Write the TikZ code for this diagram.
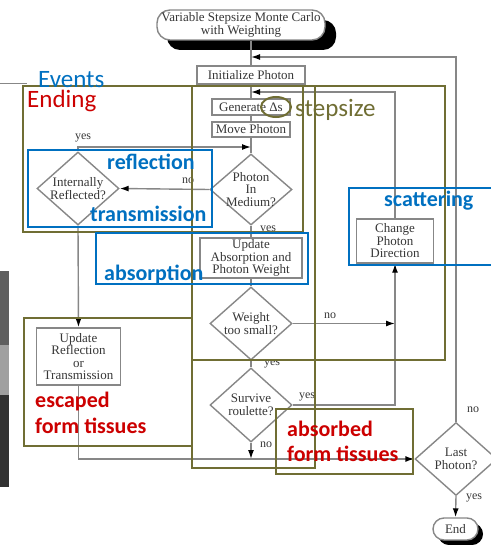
\documentclass[tikz,border=0pt]{standalone}
\usepackage{fontspec}
\setmainfont{Liberation Serif}
\newfontfamily\annfont{Carlito}
\usetikzlibrary{arrows.meta,shapes.geometric}
\definecolor{fcline}{RGB}{135,135,135}
\definecolor{fctext}{RGB}{55,55,55}
\definecolor{olivebox}{RGB}{112,110,52}
\definecolor{annblue}{RGB}{0,112,192}
\definecolor{annred}{RGB}{204,0,0}
\definecolor{barA}{RGB}{95,95,95}
\definecolor{barB}{RGB}{160,160,160}
\definecolor{barC}{RGB}{50,50,50}
\begin{document}
\begin{tikzpicture}[x=1pt,y=-1pt,
  fcfont/.style={font=\fontsize{13}{12.5}\selectfont},
  fcbox/.style={draw=fcline, line width=1.4pt, fill=white, text=fctext, fcfont, align=center, inner sep=0pt},
  dia/.style={diamond, draw=fcline, line width=1.4pt, fill=white, inner sep=0pt, minimum width=82pt, minimum height=73pt},
  dtext/.style={text=fctext, fcfont, align=center, inner sep=0pt},
  lab/.style={text=fctext, font=\fontsize{12}{12}\selectfont, inner sep=0pt},
  fcl/.style={draw=fcline, line width=1.4pt},
  arr/.style={-{Latex[length=9pt,width=6pt,color=black]}},
  olv/.style={draw=olivebox, line width=2pt},
  blu/.style={draw=annblue, line width=2pt},
  anntext/.style={inner sep=0pt, anchor=base west, font=\annfont\fontsize{25}{25}\selectfont},
  annbold/.style={inner sep=0pt, anchor=base west, font=\annfont\bfseries\fontsize{22}{27}\selectfont, align=left}
]
\useasboundingbox (0,0) rectangle (490,545);
% left slide artefacts
\fill[barA] (0,271) rectangle (9,345);
\fill[barB] (0,345) rectangle (9,395);
\fill[barC] (0,395) rectangle (9,487);
\draw[fcline, line width=1pt] (0,84) -- (27,84);

% ---------- flowchart ----------
\fill[black, rounded corners=13pt] (167,20) rectangle (336,50);
\node[fcbox, rounded corners=13pt, minimum width=168pt, minimum height=30pt] (start) at (241,25) {Variable Stepsize Monte Carlo\\with Weighting};
\node[fcbox, minimum width=108pt, minimum height=18pt] (init) at (251,75) {Initialize Photon};
\node[fcbox, minimum width=78pt, minimum height=16pt] (gen) at (251,107) {Generate Δs};
\node[fcbox, minimum width=78pt, minimum height=15pt] (move) at (251,129.5) {Move Photon};
\node[dia, minimum width=82pt, minimum height=71pt] (pim) at (251,189.5) {};
\node[dtext] (pimt) at (pim.center) {Photon\\In\\Medium?};
\node[fcbox, minimum width=102pt, minimum height=40pt] (upabs) at (251,258) {Update\\Absorption and\\Photon Weight};
\node[dia] (wts) at (251,323.5) {};
\node[dtext] (wtst) at (wts.center) {Weight\\too small?};
\node[dia, minimum height=74pt] (surv) at (251,405) {};
\node[dtext] (survt) at (surv.center) {Survive\\roulette?};
\node[dia] (ir) at (78,188.5) {};
\node[dtext] (irt) at (ir.center) {Internally\\Reflected?};
\node[fcbox, minimum width=84pt, minimum height=57pt] (uprefl) at (78.5,356.5) {Update\\Reflection\\or\\Transmission};
\node[fcbox, minimum width=77pt, minimum height=44pt] (cpd) at (395,241) {Change\\Photon\\Direction};
\node[dia] (last) at (456,459) {};
\node[dtext] (lastt) at (last.center) {Last\\Photon?};
\fill[black, rounded corners=11pt] (438,523) rectangle (483,545);
\node[fcbox, rounded corners=11pt, minimum width=45pt, minimum height=22pt] (end) at (455.5,529) {End};

\coordinate (ja) at (251,57);
\coordinate (jb) at (251,92);
\coordinate (jc) at (251,147);

\draw[fcl] (init.north |- start.south) -- (init.north);
\draw[fcl] (init) -- (gen);
\draw[fcl] (gen) -- (move);
\draw[fcl] (move) -- (pim);
\draw[fcl] (pim) -- (upabs);
\draw[fcl] (upabs) -- (wts);
\draw[fcl] (wts) -- (surv);
\draw[fcl,arr] (pim.west) -- (ir.east);
\draw[fcl,arr] (ir.north) |- (jc);
\draw[fcl,arr] (ir.south) -- (uprefl.north);
\draw[fcl,arr] (uprefl.south) |- (last.west);
\draw[fcl,arr] (surv.south) -- (surv.south |- last.west);
\draw[fcl,arr] (wts.east) -- (wts.east -| cpd.south);
\draw[fcl,arr] (surv.east) -| (cpd.south);
\draw[fcl,arr] (cpd.north) |- (jb);
\draw[fcl,arr] (last.north) |- (ja);
\draw[fcl,arr] (last.south) -- (end.north);

\node[lab] (l1) at (83,138) {yes};
\node[lab] (l2) at (188,181) {no};
\node[lab] (l3) at (268,230) {yes};
\node[lab] (l4) at (330,316) {no};
\node[lab] (l5) at (272,364) {yes};
\node[lab] (l6) at (307,397) {yes};
\node[lab] (l7) at (266,445) {no};
\node[lab] (l8) at (473,410) {no};
\node[lab] (l9) at (474,498) {yes};

% ---------- annotations ----------
\draw[olv] (23,86) rectangle (303,232);
\draw[olv] (192,86) rectangle (315,468);
\draw[olv] (192,86) rectangle (445,360);
\draw[olv] (24,318) rectangle (192,446);
\draw[olv] (276,409) rectangle (413,474);
\draw[olv] (276,107) ellipse (15 and 10);
\draw[blu] (28,150) rectangle (212,227);
\draw[blu] (96,233) rectangle (308,284);
\draw[blu] (349,188) rectangle (496,265);

\node[anntext, text=annblue] (ev) at (38,87.5) {Events};
\node[anntext, text=annred] (en) at (27,108) {Ending};
\node[anntext, text=olivebox] (ss) at (295,117) {stepsize};
\node[annbold, text=annblue] (rf) at (107,170) {reflection};
\node[annbold, text=annblue] (tr) at (90,222) {transmission};
\node[annbold, text=annblue] (ab) at (104,280) {absorption};
\node[annbold, text=annblue] (sc) at (384,207) {scattering};
\node[annbold, text=annred] (esc) at (35,407) {escaped};
\node[annbold, text=annred] (esc2) at (35,433) {form tissues};
\node[annbold, text=annred] (abs) at (287,436) {absorbed};
\node[annbold, text=annred] (abs2) at (287,461) {form tissues};
\end{tikzpicture}
\end{document}
